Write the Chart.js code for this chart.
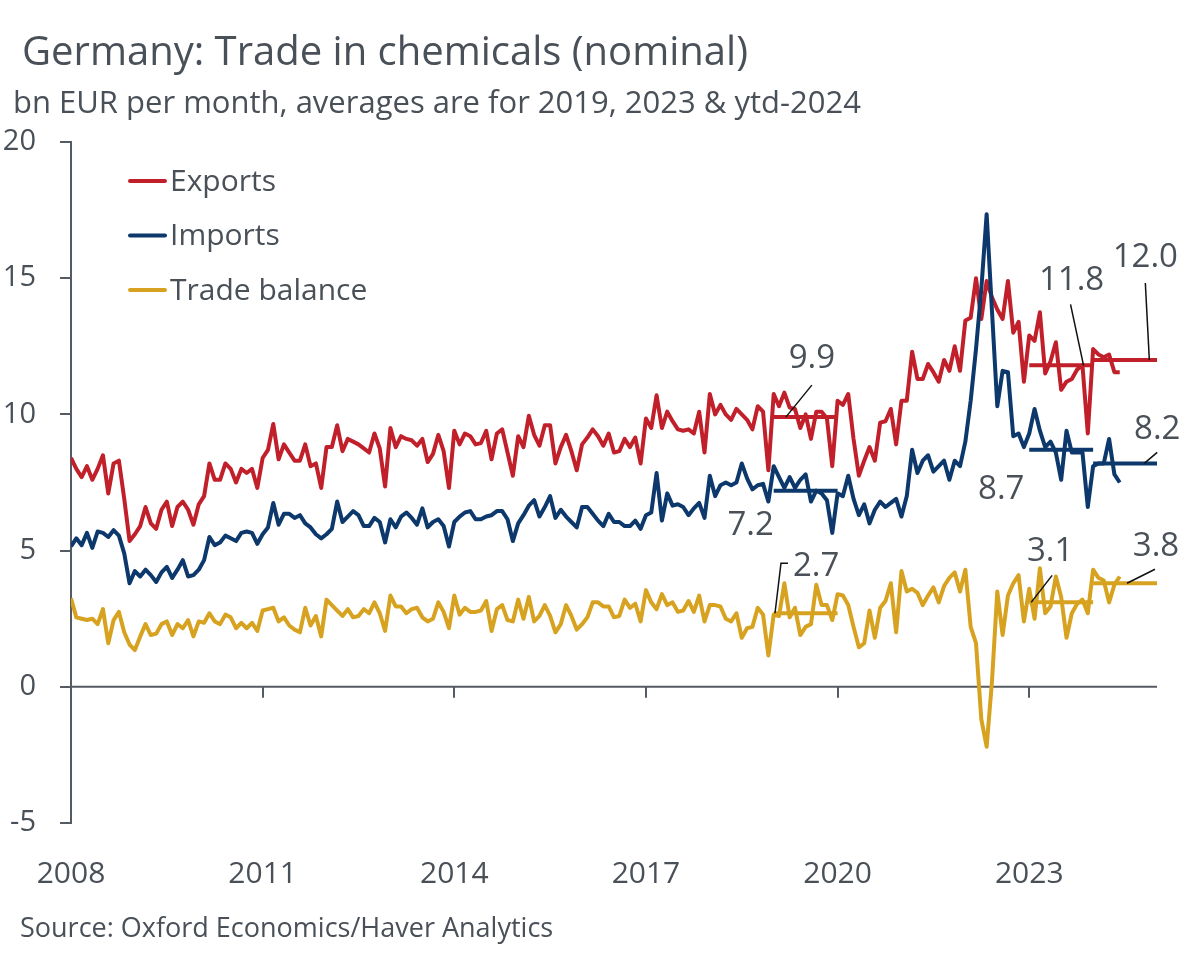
<!DOCTYPE html>
<html>
<head>
<meta charset="utf-8">
<script src="https://cdn.jsdelivr.net/npm/chart.js@4.4.1/dist/chart.umd.min.js"></script>
<style>
html,body{margin:0;padding:0;background:#ffffff;}
#wrap{position:relative;width:1200px;height:959px;font-family:"Open Sans",sans-serif;color:#4a5058;overflow:hidden;}
#title{position:absolute;left:22px;top:30px;font-size:40px;line-height:1;white-space:nowrap;}
#subtitle{position:absolute;left:13px;top:86px;font-size:31px;line-height:1;white-space:nowrap;}
#source{position:absolute;left:20px;top:913px;font-size:27px;line-height:1;white-space:nowrap;}
canvas{position:absolute;left:0;top:0;}
</style>
</head>
<body>
<div id="wrap">
<canvas id="c" width="1200" height="959"></canvas>
<div id="title">Germany: Trade in chemicals (nominal)</div>
<div id="subtitle">bn EUR per month, averages are for 2019, 2023 &amp; ytd-2024</div>
<div id="source">Source: Oxford Economics/Haver Analytics</div>
</div>
<script>
// ---- data (monthly, starting January 2008) ----
const startYear = 2008;
const seriesNames = ['Exports', 'Imports', 'Trade balance'];
const exportsData = [
 8.4,8.0,7.7,8.1,7.6,8.0,8.5,7.1,8.2,8.3,6.9,5.35,
 5.6,5.9,6.6,6.0,5.8,6.5,6.8,5.9,6.6,6.8,6.5,5.95,
 6.7,7.0,8.2,7.6,7.6,8.2,8.0,7.5,8.0,7.85,8.0,7.3,
 8.4,8.7,9.65,8.35,8.9,8.6,8.3,8.3,8.9,8.1,8.2,7.3,
 8.8,8.8,9.6,8.65,9.1,9.0,8.9,8.75,8.6,9.3,8.75,7.35,
 9.5,8.8,9.2,9.1,9.05,8.85,9.1,8.25,8.55,9.25,8.65,7.3,
 9.4,8.9,9.3,9.2,8.9,8.95,9.4,8.35,9.3,9.45,8.6,7.75,
 9.2,8.8,9.95,9.25,8.85,9.6,9.6,8.2,8.8,9.25,8.65,7.95,
 8.9,9.15,9.45,9.2,8.85,9.3,8.6,8.65,9.1,8.8,9.15,8.2,
 9.85,9.5,10.7,9.5,10.1,9.75,9.45,9.4,9.45,9.3,10.1,8.6,
 10.75,10.0,10.35,10.0,9.8,10.2,10.0,9.8,9.45,10.3,10.1,7.95,
 10.75,10.3,10.8,10.25,10.2,9.5,10.0,9.1,10.1,10.1,9.85,8.1,
 10.5,10.35,10.75,9.1,7.75,8.3,8.8,8.3,9.7,9.75,10.2,8.9,
 10.5,10.5,12.3,11.3,11.3,11.85,11.55,11.2,12.0,11.6,12.5,11.6,
 13.45,13.55,15.0,13.5,14.9,14.3,13.85,13.5,14.9,13.0,13.4,11.2,
 12.9,12.7,13.75,11.5,11.95,12.65,10.9,11.2,11.3,11.65,11.8,9.3,
 12.4,12.2,12.1,12.2,11.55,11.55
];
const importsData = [
 5.15,5.45,5.2,5.65,5.1,5.7,5.65,5.5,5.75,5.55,4.9,3.8,
 4.25,4.05,4.3,4.1,3.85,4.2,4.4,4.0,4.3,4.65,4.05,4.1,
 4.3,4.65,5.5,5.2,5.3,5.55,5.45,5.35,5.65,5.7,5.65,5.25,
 5.6,5.85,6.75,5.95,6.35,6.35,6.2,6.3,6.0,5.85,5.6,5.45,
 5.6,5.8,6.8,6.05,6.25,6.45,6.3,5.9,5.9,6.2,6.05,5.3,
 6.15,5.85,6.25,6.4,6.2,5.95,6.55,5.85,6.05,6.15,5.9,5.15,
 6.05,6.25,6.4,6.45,6.15,6.15,6.25,6.3,6.45,6.45,6.15,5.35,
 6.0,6.3,6.65,6.85,6.25,6.6,7.0,6.2,6.5,6.25,6.05,5.85,
 6.6,6.6,6.35,6.1,5.9,6.35,6.05,6.05,5.9,5.9,6.1,5.8,
 6.3,6.4,7.85,6.1,7.1,6.65,6.7,6.6,6.3,6.55,6.75,6.2,
 7.75,7.0,7.4,7.5,7.4,7.5,8.2,7.65,7.25,7.4,7.45,6.8,
 8.1,7.7,7.3,7.7,7.3,7.6,7.8,6.8,7.2,7.1,6.85,5.65,
 7.1,7.0,7.75,6.9,6.3,6.7,6.0,6.5,6.8,6.6,6.75,6.9,
 6.25,7.0,8.7,7.85,8.3,8.5,7.9,8.1,8.3,7.6,8.3,8.1,
 9.0,10.5,12.4,14.6,17.35,13.8,10.3,11.6,11.55,9.2,9.3,8.8,
 9.3,10.2,9.4,8.8,9.0,8.6,7.6,9.4,8.6,8.6,8.6,6.6,
 8.1,8.2,8.2,9.1,7.8,7.5
];
const balanceData = [
 3.25,2.55,2.5,2.45,2.5,2.3,2.85,1.6,2.45,2.75,2.0,1.55,
 1.35,1.85,2.3,1.9,1.95,2.3,2.4,1.9,2.3,2.15,2.45,1.85,
 2.4,2.35,2.7,2.4,2.3,2.65,2.55,2.15,2.35,2.15,2.35,2.05,
 2.8,2.85,2.9,2.4,2.55,2.25,2.1,2.0,2.9,2.25,2.6,1.85,
 3.2,3.0,2.8,2.6,2.85,2.55,2.6,2.85,2.7,3.1,2.7,2.05,
 3.35,2.95,2.95,2.7,2.85,2.9,2.55,2.4,2.5,3.1,2.75,2.15,
 3.35,2.65,2.9,2.75,2.75,2.8,3.15,2.05,2.85,3.0,2.45,2.4,
 3.2,2.5,3.3,2.4,2.6,3.0,2.6,2.0,2.3,3.0,2.6,2.1,
 2.3,2.55,3.1,3.1,2.95,2.95,2.55,2.6,3.2,2.9,3.05,2.4,
 3.55,3.1,2.85,3.4,3.0,3.1,2.75,2.8,3.15,2.75,3.35,2.4,
 3.0,3.0,2.95,2.5,2.4,2.7,1.8,2.15,2.2,2.9,2.65,1.15,
 2.65,2.6,3.8,2.55,2.9,1.9,2.2,2.3,3.75,3.0,3.0,2.45,
 3.4,3.35,3.0,2.2,1.45,1.6,2.8,1.8,2.9,3.15,3.8,2.0,
 4.25,3.5,3.6,3.45,3.0,3.35,3.65,3.1,3.7,4.0,4.2,3.5,
 4.3,2.2,1.6,-1.2,-2.2,0.2,3.5,1.9,3.35,3.8,4.1,2.4,
 3.6,2.5,4.35,2.7,2.95,4.05,3.3,1.8,2.7,3.05,3.2,2.7,
 4.3,4.0,3.9,3.1,3.75,4.05
];
// averages: 2019, 2023, ytd-2024
const avgPeriods = [[2019, 2020], [2023, 2024], [2024, 2025]];
const exportsAvg = [9.9, 11.8, 12.0];
const importsAvg = [7.2, 8.7, 8.2];
const balanceAvg = [2.7, 3.1, 3.8];
const xTickYears = [2008, 2011, 2014, 2017, 2020, 2023];
const yTickValues = [-5, 0, 5, 10, 15, 20];

// ---- styling ----
const FONT = '"Open Sans", sans-serif';
const TEXT = '#4a5058';
const AXIS = '#555b62';
const COLORS = ['#c1202b', '#0c386c', '#d7a21f'];

const toPoints = arr => arr.map((v, i) => ({x: startYear + i / 12, y: v}));
const avgPoints = arr => {
  const pts = [];
  arr.forEach((v, k) => {
    const [a, b] = avgPeriods[k];
    if (k > 0) pts.push({x: a, y: null});
    pts.push({x: a, y: v}, {x: b, y: v});
  });
  return pts;
};

const zeroAxisPlugin = {
  id: 'zeroAxis',
  beforeDatasetsDraw(chart) {
    const {ctx, chartArea, scales: {x, y}} = chart;
    const y0 = y.getPixelForValue(0);
    ctx.save();
    ctx.strokeStyle = AXIS;
    ctx.lineWidth = 2;
    ctx.beginPath();
    ctx.moveTo(chartArea.left, y0);
    ctx.lineTo(chartArea.right, y0);
    xTickYears.slice(1).forEach(t => {
      const px = Math.round(x.getPixelForValue(t));
      ctx.moveTo(px, y0);
      ctx.lineTo(px, y0 + 11);
    });
    ctx.stroke();
    ctx.restore();
  }
};

const legendPlugin = {
  id: 'inlineLegend',
  afterDraw(chart) {
    const {ctx, chartArea} = chart;
    ctx.save();
    for (let i = 0; i < 3; i++) {
      const ds = chart.data.datasets[i];
      const yy = chartArea.top + 39 + i * 54.5;
      ctx.strokeStyle = ds.borderColor;
      ctx.lineWidth = 4;
      ctx.lineCap = 'round';
      ctx.beginPath();
      ctx.moveTo(chartArea.left + 59, yy);
      ctx.lineTo(chartArea.left + 94, yy);
      ctx.stroke();
      ctx.fillStyle = TEXT;
      ctx.font = '30px ' + FONT;
      ctx.textAlign = 'left';
      ctx.textBaseline = 'middle';
      ctx.fillText(ds.label, chartArea.left + 99, yy + 1);
    }
    ctx.restore();
  }
};

const avgLabelPlugin = {
  id: 'avgLabels',
  afterDatasetsDraw(chart) {
    const {ctx, scales: {x, y}} = chart;
    const specs = [
      {v: exportsAvg[0], at: 2019.19, leader: [[0,0],[26,-32]], text: [26,-59], align: 'center'},
      {v: importsAvg[0], at: 2019.0, leader: null, text: [-23,35], align: 'center'},
      {v: balanceAvg[0], at: 2019.02, leader: [[0,0],[6,-50],[13,-50]], text: [18,-47], align: 'left'},
      {v: importsAvg[1], at: 2023.0, leader: null, text: [-28,40], align: 'center'},
      {v: exportsAvg[1], at: 2023.85, leader: [[0,0],[-13,-61]], text: [-12,-85], align: 'center'},
      {v: exportsAvg[2], at: 2024.88, leader: [[0,0],[-4,-77]], text: [-4,-102], align: 'center'},
      {v: importsAvg[2], at: 2024.8, leader: [[0,0],[13,-11]], text: [13,-34], align: 'center'},
      {v: balanceAvg[1], at: 2023.03, leader: [[0,0],[21,-27]], text: [19,-51], align: 'center'},
      {v: balanceAvg[2], at: 2024.53, leader: [[0,0],[28,-14]], text: [29,-37], align: 'center'}
    ];
    ctx.save();
    specs.forEach(s => {
      const ax = x.getPixelForValue(s.at);
      const ay = y.getPixelForValue(s.v);
      if (s.leader) {
        ctx.strokeStyle = '#111111';
        ctx.lineWidth = 1.5;
        ctx.beginPath();
        s.leader.forEach(([dx, dy], i) => {
          if (i === 0) ctx.moveTo(ax + dx, ay + dy); else ctx.lineTo(ax + dx, ay + dy);
        });
        ctx.stroke();
      }
      ctx.fillStyle = TEXT;
      ctx.font = '33px ' + FONT;
      ctx.textAlign = s.align;
      ctx.textBaseline = 'middle';
      ctx.fillText(s.v.toFixed(1), ax + s.text[0], ay + s.text[1]);
    });
    ctx.restore();
  }
};

const lineDs = (label, data, color, order) => ({
  label, data, borderColor: color, backgroundColor: color, borderWidth: 4,
  pointRadius: 0, tension: 0, fill: false, borderJoinStyle: 'round', order
});

new Chart(document.getElementById('c'), {
  type: 'line',
  data: {
    datasets: [
      lineDs(seriesNames[0], toPoints(exportsData), COLORS[0], 3),
      lineDs(seriesNames[1], toPoints(importsData), COLORS[1], 2),
      lineDs(seriesNames[2], toPoints(balanceData), COLORS[2], 1),
      Object.assign(lineDs(seriesNames[0] + ' avg', avgPoints(exportsAvg), COLORS[0], 0), {spanGaps: false}),
      Object.assign(lineDs(seriesNames[1] + ' avg', avgPoints(importsAvg), COLORS[1], 0), {spanGaps: false}),
      Object.assign(lineDs(seriesNames[2] + ' avg', avgPoints(balanceAvg), COLORS[2], 0), {spanGaps: false})
    ]
  },
  options: {
    responsive: false,
    animation: false,
    devicePixelRatio: 1,
    parsing: true,
    layout: {padding: {top: 142, right: 43, bottom: 68, left: 0}},
    plugins: {legend: {display: false}, tooltip: {enabled: false}, title: {display: false}},
    scales: {
      x: {
        type: 'linear', min: 2008, max: 2025,
        afterBuildTicks: s => { s.ticks = xTickYears.map(v => ({value: v})); },
        afterFit: s => { s.height = 68; },
        grid: {display: false, drawTicks: false},
        border: {display: false},
        ticks: {padding: 33, color: TEXT, font: {family: FONT, size: 30}, maxRotation: 0, autoSkip: false,
                callback: v => String(v)}
      },
      y: {
        min: -5, max: 20,
        afterBuildTicks: s => { s.ticks = yTickValues.map(v => ({value: v})); },
        afterFit: s => { s.width = 71; },
        grid: {drawOnChartArea: false, drawTicks: true, tickLength: 11, color: AXIS, lineWidth: 2},
        border: {display: true, color: AXIS, width: 2},
        ticks: {padding: 24, color: TEXT, font: {family: FONT, size: 29}, callback: v => String(v)}
      }
    }
  },
  plugins: [zeroAxisPlugin, avgLabelPlugin, legendPlugin]
});
</script>
</body>
</html>
